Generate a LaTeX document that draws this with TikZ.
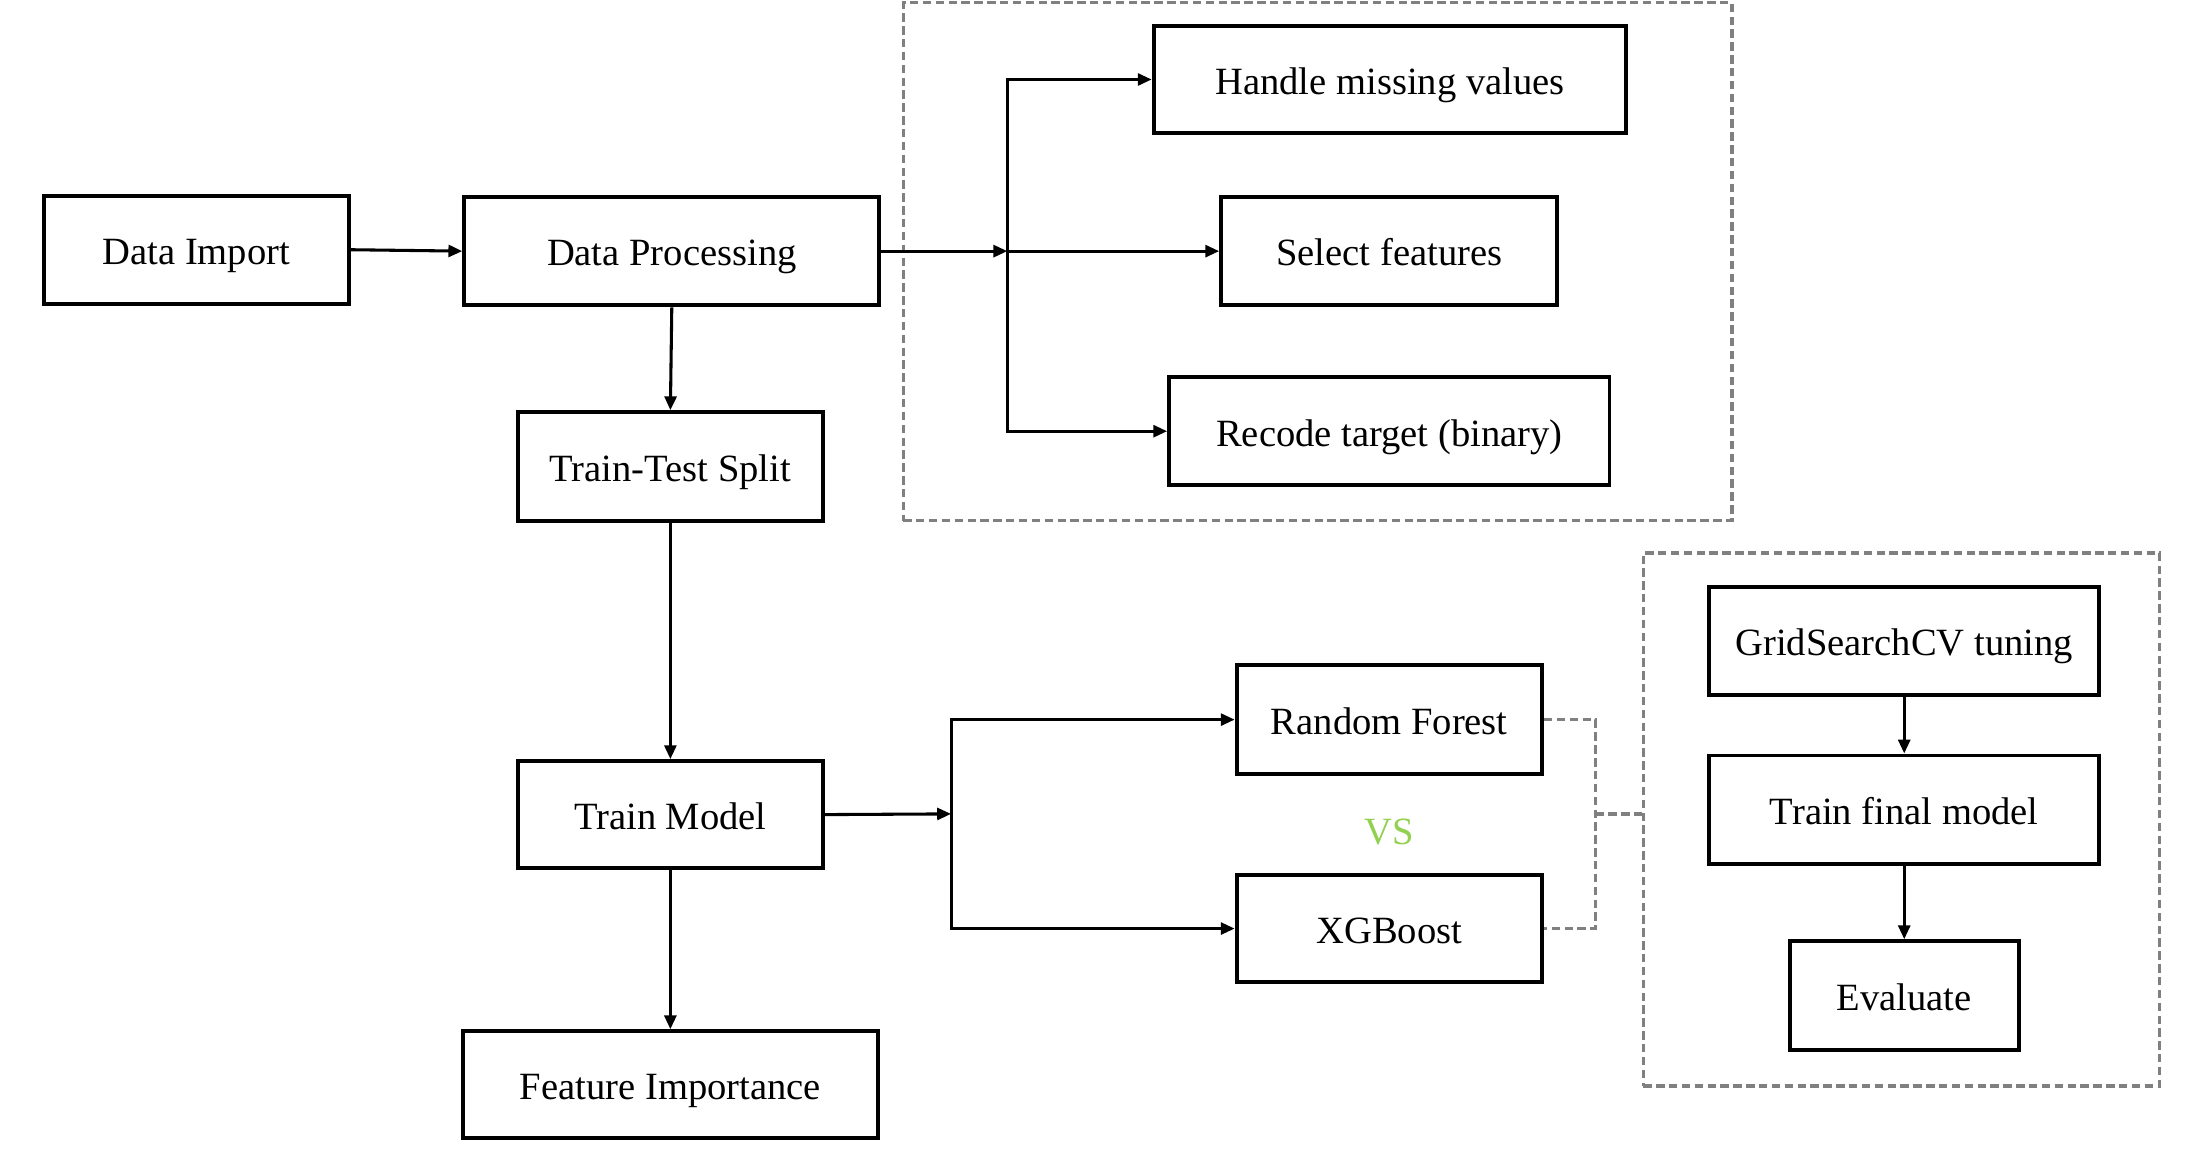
\documentclass[tikz,border=0pt]{standalone}
\usepackage{fontspec}
\setmainfont{Liberation Serif}
\usetikzlibrary{arrows.meta,calc}
\definecolor{vsgreen}{HTML}{92D050}
\definecolor{dgray}{HTML}{808080}
\begin{document}
\begin{tikzpicture}[x=0.5mm,y=-0.5mm,
  box/.style={draw=black,line width=4pt,rectangle,inner sep=0pt,
    font=\fontsize{39}{46}\selectfont,text=black,text height=30pt,text depth=0pt},
  grp/.style={draw=dgray,line width=3.4pt,dash pattern=on 8.5pt off 4.5pt,rectangle,inner sep=0pt},
  arr/.style={line width=3.1pt,-{Triangle[length=14pt,width=12pt]}},
  dsh/.style={draw=dgray,line width=3.4pt,dash pattern=on 8.5pt off 4.5pt}]
\useasboundingbox (0,0) rectangle (1568,827.3);
% groups
\node[grp,minimum width=589*0.5mm,minimum height=368*0.5mm] (g1) at (936.5,186) {};
\node[grp,minimum width=367*0.5mm,minimum height=379*0.5mm] (g2) at (1351.5,582.5) {};
% main boxes
\node[box,minimum width=217*0.5mm,minimum height=77*0.5mm] (di) at (139.5,177.5) {Data Import};
\node[box,minimum width=295*0.5mm,minimum height=77*0.5mm] (dp) at (477.5,178.5) {Data Processing};
\node[box,minimum width=217*0.5mm,minimum height=77*0.5mm] (tts) at (476.5,331.5) {Train-Test Split};
\node[box,minimum width=217*0.5mm,minimum height=76*0.5mm] (tm) at (476.5,579) {Train Model};
\node[box,minimum width=295*0.5mm,minimum height=76*0.5mm] (fi) at (476.5,771) {Feature Importance};
% preprocessing
\node[box,minimum width=336*0.5mm,minimum height=76*0.5mm] (hmv) at (988,56.5) {Handle missing values};
\node[box,minimum width=239*0.5mm,minimum height=77*0.5mm] (sf) at (987.5,178.5) {Select features};
\node[box,minimum width=313*0.5mm,minimum height=77*0.5mm] (rt) at (987.5,306.5) {Recode target (binary)};
% models
\node[box,minimum width=217*0.5mm,minimum height=77*0.5mm] (rf) at (987.5,511.5) {Random Forest};
\node[box,minimum width=217*0.5mm,minimum height=76*0.5mm] (xgb) at (987.5,660) {XGBoost};
\node[font=\fontsize{39}{46}\selectfont,text=vsgreen,inner sep=0pt,text height=30pt,text depth=0pt] (vs) at (987.5,590) {VS};
% tuning
\node[box,minimum width=277*0.5mm,minimum height=77*0.5mm] (gs) at (1353.5,455.5) {GridSearchCV tuning};
\node[box,minimum width=277*0.5mm,minimum height=77*0.5mm] (tfm) at (1353.5,575.5) {Train final model};
\node[box,minimum width=163*0.5mm,minimum height=77*0.5mm] (ev) at (1353.5,707.5) {Evaluate};
% connectors
\draw[arr] (di.east) -- (dp.west);
\draw[arr] (dp.south) -- (tts.north);
\draw[arr] (tts.south) -- (tm.north);
\draw[arr] (tm.south) -- (fi.north);
\coordinate (j1) at (716,178.5);
\draw[arr] (dp.east) -- (j1);
\draw[arr] (j1) |- (hmv.west);
\draw[arr] (j1) -- (sf.west);
\draw[arr] (j1) |- (rt.west);
\coordinate (j2) at (676,578.5);
\draw[arr] (tm.east) -- (j2);
\draw[arr] (j2) |- (rf.west);
\draw[arr] (j2) |- (xgb.west);
\draw[arr] (gs.south) -- (tfm.north);
\draw[arr] (tfm.south) -- (ev.north);
\coordinate (k1) at (1134,511.5);
\coordinate (k2) at (1134,578.5);
\draw[dsh] (rf.east) -- (k1) -- (k1 |- xgb.east) -- (xgb.east);
\draw[dsh] (k2) -- (k2 -| g2.west);
\end{tikzpicture}
\end{document}
